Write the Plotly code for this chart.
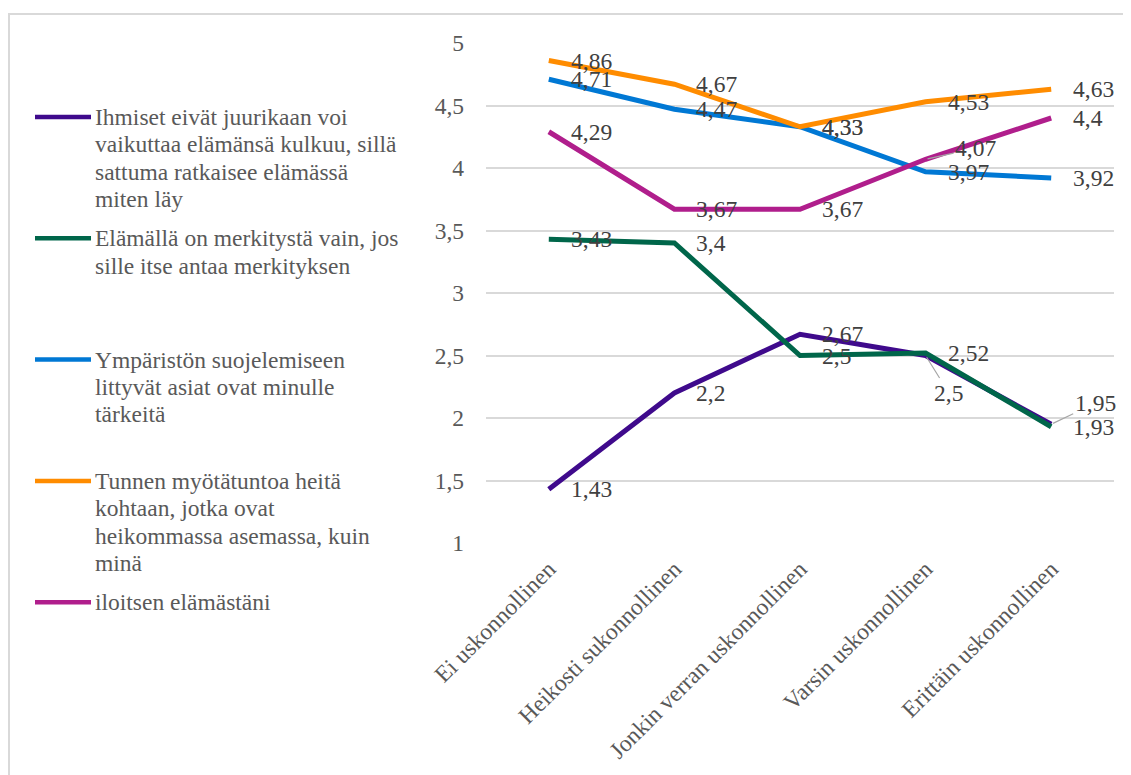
import plotly.graph_objects as go

# ---------------- data ----------------
categories = ["Ei uskonnollinen", "Heikosti sukonnollinen", "Jonkin verran uskonnollinen",
              "Varsin uskonnollinen", "Erittäin uskonnollinen"]

legend_labels = [
    "Ihmiset eivät juurikaan voi\nvaikuttaa elämänsä kulkuu, sillä\nsattuma ratkaisee elämässä\nmiten läy",
    "Elämällä on merkitystä vain, jos\nsille itse antaa merkityksen",
    "Ympäristön suojelemiseen\nlittyvät asiat ovat minulle\ntärkeitä",
    "Tunnen myötätuntoa heitä\nkohtaan, jotka ovat\nheikommassa asemassa, kuin\nminä",
    "iloitsen elämästäni",
]

ihmiset = [1.43, 2.2, 2.67, 2.5, 1.95]
elamalla = [3.43, 3.4, 2.5, 2.52, 1.93]
ymparisto = [4.71, 4.47, 4.33, 3.97, 3.92]
myotatunto = [4.86, 4.67, 4.33, 4.53, 4.63]
iloitsen = [4.29, 3.67, 3.67, 4.07, 4.4]

series_values = [ihmiset, elamalla, ymparisto, myotatunto, iloitsen]
colors = ["#3F0A8C", "#00664A", "#0078D4", "#FF8C00", "#B01E8C"]

y_ticks = [1, 1.5, 2, 2.5, 3, 3.5, 4, 4.5, 5]

# ---------------- layout geometry (page pixels) ----------------
W, H = 1131, 775
OFF = 8  # default page body margin
PL, PR, PT, PB = 486, 1114, 43, 543  # plot area in page pixels
L, T = PL - OFF, PT - OFF
R = W - (PR - OFF)
B = H - (PB - OFF)
PW, PH = PR - PL, PB - PT

FONT = "Liberation Serif, Times New Roman, serif"
FS = 23.5
TICK_COLOR = "#595959"
LABEL_COLOR = "#404040"


def px_to_paper_x(px):
    return (px - PL) / PW


def px_to_paper_y(py):
    return (PB - py) / PH


def fmt(v):
    return f"{v:g}".replace(".", ",")


fig = go.Figure()

for vals, name, col in zip(series_values, legend_labels, colors):
    fig.add_trace(go.Scatter(
        x=categories, y=vals, mode="lines", name=name.replace("\n", " "),
        line=dict(color=col, width=5), showlegend=False,
        hoverinfo="x+y+name",
    ))

annotations = []
# data labels (special placements with leader lines)
leader = {(4, 3): (50, -11), (0, 3): (23, 37), (0, 4): (44, -21)}
for si, vals in enumerate(series_values):
    for pi, v in enumerate(vals):
        if (si, pi) in leader:
            ax, ay = leader[(si, pi)]
            annotations.append(dict(
                x=categories[pi], y=v, xref="x", yref="y", text=fmt(v),
                showarrow=True, arrowhead=0, arrowwidth=1.2, arrowcolor="#A6A6A6",
                ax=ax, ay=ay, axref="pixel", ayref="pixel", standoff=2,
                font=dict(family=FONT, size=FS, color=LABEL_COLOR),
            ))
        else:
            annotations.append(dict(
                x=categories[pi], y=v, xref="x", yref="y", text=fmt(v),
                showarrow=False, xanchor="left", yanchor="middle", xshift=20,
                font=dict(family=FONT, size=FS, color=LABEL_COLOR),
            ))

# manual legend (Excel style: items spread evenly)
shapes = []
first_line_y = 117
item_step = 121.3
line_step = 27.3
for k, (lab, col) in enumerate(zip(legend_labels, colors)):
    y0 = first_line_y + k * item_step
    shapes.append(dict(type="line", xref="paper", yref="paper",
                       x0=px_to_paper_x(35), x1=px_to_paper_x(91),
                       y0=px_to_paper_y(y0), y1=px_to_paper_y(y0),
                       line=dict(color=col, width=4.5)))
    for j, line_txt in enumerate(lab.split("\n")):
        annotations.append(dict(
            x=px_to_paper_x(93), y=px_to_paper_y(y0 + j * line_step),
            xref="paper", yref="paper", text=line_txt, showarrow=False,
            xanchor="left", yanchor="middle", align="left",
            font=dict(family=FONT, size=FS, color=TICK_COLOR),
        ))

# chart border
shapes.append(dict(type="rect", xref="paper", yref="paper",
                   x0=px_to_paper_x(9), x1=px_to_paper_x(W + 20),
                   y0=px_to_paper_y(H + 20), y1=px_to_paper_y(14),
                   line=dict(color="#D9D9D9", width=2), layer="below"))

fig.update_layout(
    width=W, height=H, autosize=False,
    margin=dict(l=L, r=R, t=T, b=B, pad=0),
    paper_bgcolor="white", plot_bgcolor="white",
    separators=", ",
    font=dict(family=FONT, size=FS, color=TICK_COLOR),
    annotations=annotations, shapes=shapes,
    showlegend=False,
)
fig.update_xaxes(
    type="category", range=[-0.5, 4.5], tickangle=-45,
    showgrid=False, showline=True, linecolor="white", linewidth=3,
    ticks="", tickfont=dict(family=FONT, size=FS, color=TICK_COLOR),
    automargin=False, ticklabelstandoff=0,
)
fig.update_yaxes(
    range=[1, 5], tickvals=y_ticks, showgrid=True, gridcolor="#D9D9D9", gridwidth=1.5,
    zeroline=False, showline=False, ticks="",
    tickfont=dict(family=FONT, size=FS, color=TICK_COLOR),
    automargin=False, ticklabelstandoff=21,
)

fig.write_html("out.html")
